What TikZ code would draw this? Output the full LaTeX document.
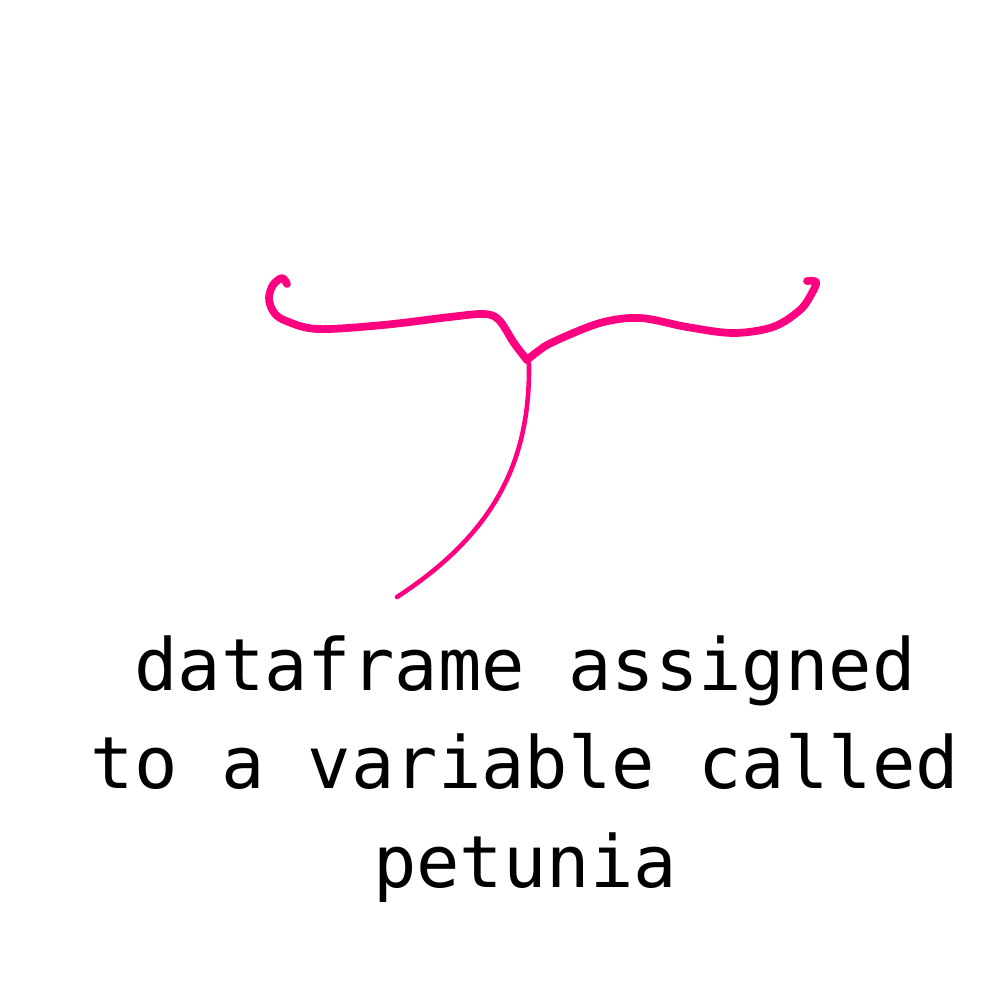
\documentclass[tikz,border=0pt]{standalone}
\usepackage{fontspec}
\setmonofont{DejaVu Sans Mono}
\definecolor{hotpink}{RGB}{255,0,128}
\begin{document}
\begin{tikzpicture}[x=0.01cm,y=-0.01cm,
  brace/.style={draw=hotpink,line width=2.2pt,line cap=round,line join=round},
  stem/.style={draw=hotpink,line width=1.3pt,line cap=round},
  label/.style={font=\ttfamily\fontsize{20.5pt}{28pt}\selectfont,anchor=base,inner sep=0pt}]
\fill[white] (0,0) rectangle (1000,1000);
\useasboundingbox (0,0) rectangle (1000,1000);
% brace
\draw[brace] plot[smooth,tension=0.55] coordinates {(287,284) (282,278) (273,285) (269,298) (273,311) (284,320) (317,329) (383,325) (450,317) (484,314) (499,320) (514,343) (527,360)};
\draw[brace] plot[smooth,tension=0.55] coordinates {(527,360) (537,352) (553,342) (600,323) (640,318) (687,327) (733,333) (773,327) (800,310) (812,293) (816,282) (807,281)};
% stem
\coordinate (top) at (529,364);
\coordinate (bot) at (397,597);
\draw[stem] (top) .. controls (530,455) and (500,530) .. (bot);
% text
\node[label] (t1) at (525,690) {dataframe assigned};
\node[label] (t2) at (525,788) {to a variable called};
\node[label] (t3) at (525,887) {petunia};
\end{tikzpicture}
\end{document}
